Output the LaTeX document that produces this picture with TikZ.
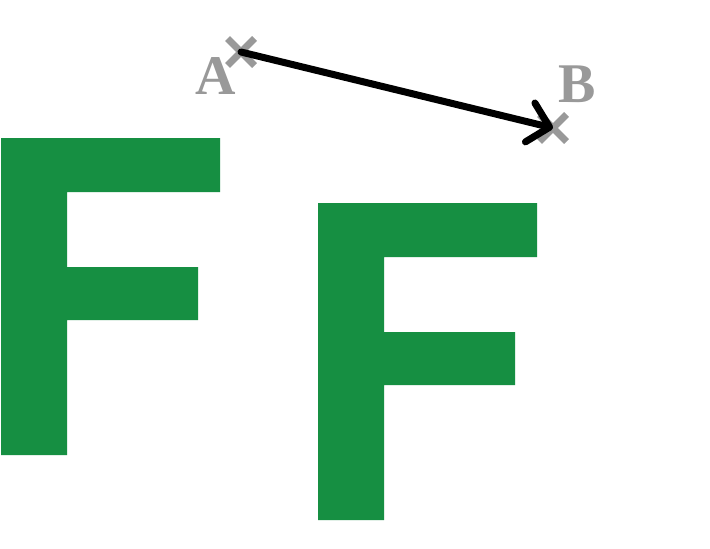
\documentclass[tikz,border=0pt]{standalone}
\usepackage{fontspec}
\usepackage{tikz}
\usetikzlibrary{shapes.misc}
\usetikzlibrary{arrows,arrows.meta}
\newfontfamily\labelfont{Liberation Serif}
\definecolor{shapegreen}{RGB}{22,143,66}
\definecolor{markgray}{RGB}{153,153,153}

\begin{document}
\begin{tikzpicture}[x=1pt, y=-1pt,
	crossmark/.style={cross out, draw=markgray, line width=7pt, minimum size=20pt, inner sep=0pt},
	pointlabel/.style={markgray, font=\labelfont\fontsize{56}{60}\selectfont\bfseries}]

	\useasboundingbox[fill=white] (0,0) rectangle (710,549);

	% original figure
	\path[fill=shapegreen] (1,138) -- (220,138) -- (220,192) -- (67,192) -- (67,267) -- (198,267) -- (198,320) -- (67,320) -- (67,455) -- (1,455) --cycle;

	% translated figure
	\begin{scope}[shift={(317,65)}]
		\path[fill=shapegreen] (1,138) -- (220,138) -- (220,192) -- (67,192) -- (67,267) -- (198,267) -- (198,320) -- (67,320) -- (67,455) -- (1,455) --cycle;
	\end{scope}

	% translation vector
	\node[crossmark] (A) at (241,52) {};
	\node[crossmark] (B) at (553,128) {};
	\node[pointlabel] (labelA) at (216,76) {A};
	\node[pointlabel] (labelB) at (577,84) {B};
	\draw[line width=7pt, line cap=round, -{Straight Barb[length=20pt,width=40pt,round]}] (A.center) -- (B.center);

\end{tikzpicture}
\end{document}
